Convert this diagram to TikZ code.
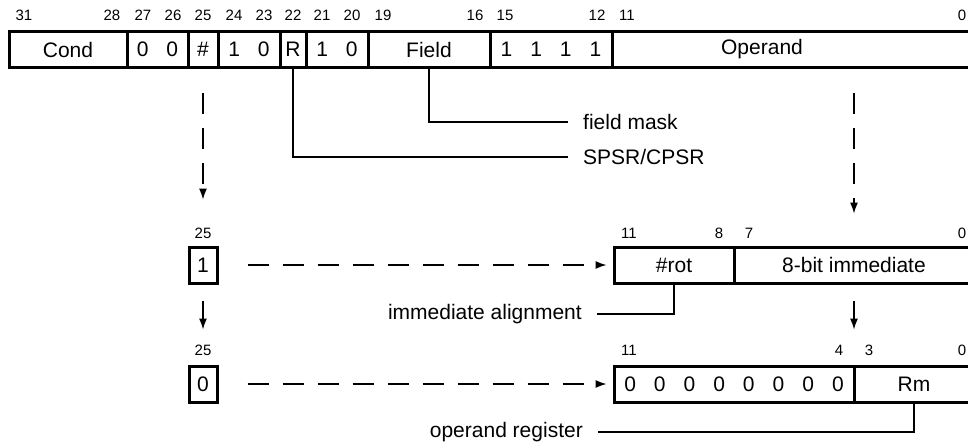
\documentclass[tikz,border=0pt]{standalone}
\usepackage{fontspec}
\setmainfont{Liberation Sans}
\usetikzlibrary{arrows.meta}

\tikzset{
  cell/.style={draw, line width=3pt, minimum height=36pt, inner sep=0pt,
    font=\fontsize{21}{23}\selectfont},
  bitno/.style={inner sep=0pt, font=\fontsize{15}{17}\selectfont},
  tag/.style={inner xsep=15pt, inner ysep=0pt, font=\fontsize{21}{23}\selectfont},
  lead/.style={line width=1.3pt},
  flow/.style={line width=1.3pt, dash pattern=on 21pt off 14pt,
    -{Latex[length=11pt,width=8pt]}}
}
\newcommand\bitgap{\hspace{18pt}}

\begin{document}
\begin{tikzpicture}[x=1pt,y=-1pt]
  \useasboundingbox (0,0) rectangle (968,445);
  \clip (0,0) rectangle (968,445);

  % instruction word
  \foreach \nm/\l/\r/\txt in
  {cond/9/127/Cond, zz/127/188/0\bitgap0, imm/188/218/\#,
   oz/218/280/1\bitgap0, r/280/306/R, oza/306/368/1\bitgap0,
   field/368/490/Field, ones/490/612/1\bitgap1\bitgap1\bitgap1,
   operand/612/978/\hspace*{-66pt}Operand}
    \node[cell, minimum width={(\r-\l)*1pt}] (\nm) at ({(\l+\r)/2},49.5) {\txt};

  \foreach \x/\b in
  {24/31, 112/28, 143/27, 173/26, 203/25, 234/24, 264/23, 293/22,
   322/21, 352/20, 383/19, 475/16, 505/15, 597/12, 627/11, 962/0}
    \node[bitno] (t\b) at (\x,15) {\b};

  % immediate form
  \node[cell, minimum width=28pt] (one) at (203,265) {1};
  \node[cell, minimum width=120pt] (rot) at (674,265) {\#rot};
  \node[cell, minimum width=240pt] (imm8) at (854,265) {8-bit immediate};
  \foreach \x/\b in {203/25, 629/11, 719/8, 749/7, 962/0}
    \node[bitno] (m\b) at (\x,233) {\b};

  % register form
  \node[cell, minimum width=28pt] (zero) at (203,384) {0};
  \node[cell, minimum width=240pt] (zeros) at (734,384)
    {0\bitgap0\bitgap0\bitgap0\bitgap0\bitgap0\bitgap0\bitgap0};
  \node[cell, minimum width=120pt] (rm) at (914,384) {Rm};
  \foreach \x/\b in {203/25, 629/11, 839/4, 869/3, 962/0}
    \node[bitno] (b\b) at (\x,350) {\b};

  % labels
  \node[tag, anchor=west] (fmask) at (568,122) {field mask};
  \node[tag, anchor=west] (psr) at (568,157) {SPSR/CPSR};
  \node[tag, anchor=east] (align) at (597,314) {immediate alignment};
  \node[tag, anchor=east] (opreg) at (598,432) {operand register};

  \draw[lead] (field) |- (fmask);
  \draw[lead] (r) |- (psr);
  \draw[lead] (rot) |- (align);
  \draw[lead] (rm) |- (opreg);

  \draw[flow, shorten <=24pt, shorten >=46pt] (imm) -- (one);
  \draw[flow, shorten <=16pt, shorten >=35pt] (one) -- (zero);
  \draw[flow, shorten <=29pt, shorten >=6pt] (one) -- (rot);
  \draw[flow, shorten <=29pt, shorten >=6pt] (zero) -- (zeros);
  \draw[flow, shorten <=24pt, shorten >=32pt] (operand.south -| imm8.north) -- (imm8.north);
  \draw[flow, shorten <=16pt, shorten >=35pt] (imm8.south) -- (imm8.south |- zeros.north);
\end{tikzpicture}
\end{document}
